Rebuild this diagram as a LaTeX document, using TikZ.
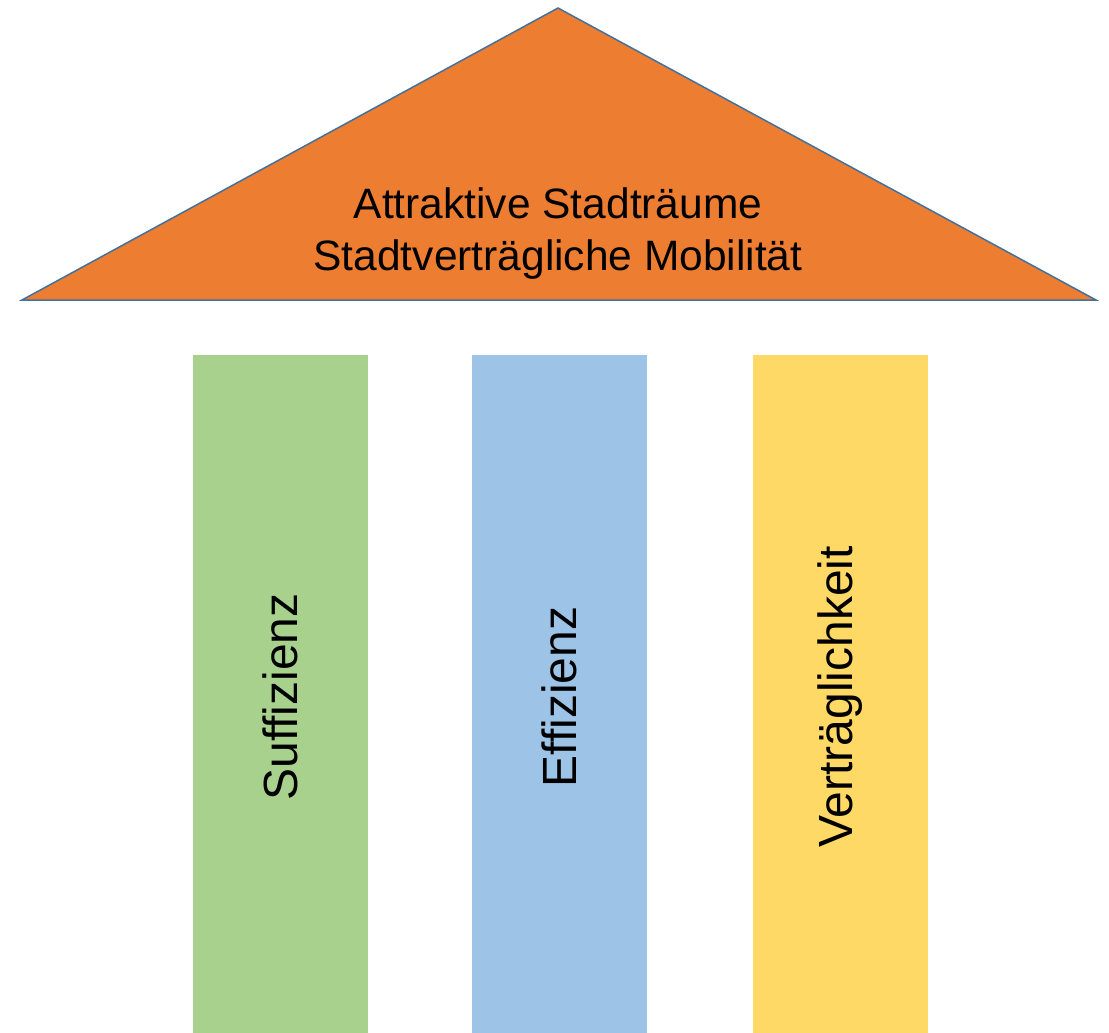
\documentclass[tikz,border=0pt]{standalone}
\usepackage{fontspec}
\setmainfont{Liberation Sans}
\usetikzlibrary{calc}
\definecolor{roofcol}{HTML}{ED7D31}
\definecolor{edgecol}{HTML}{41719C}
\definecolor{suffcol}{HTML}{A9D18E}
\definecolor{effcol}{HTML}{9DC3E6}
\definecolor{vertcol}{HTML}{FFD966}
\tikzset{roof/.style={fill=roofcol, draw=edgecol, line width=1.5pt, line join=miter},
  pillar/.style={rectangle, minimum width=175pt, minimum height=678pt, inner sep=0pt},
  pillartext/.style={rotate=90, font=\fontsize{48}{48}\selectfont},
  rooftext/.style={align=center, font=\fontsize{42.5}{51.5}\selectfont}}
\begin{document}
\begin{tikzpicture}[x=1pt,y=-1pt]
    \useasboundingbox (0,0) rectangle (1109,1033);
    \path[roof] (22,300) coordinate (RL) -- (558,8) coordinate (RT) -- (1096,300) coordinate (RR) -- cycle;
    \node[rooftext] (title) at (558,233.5) {Attraktive Stadträume\\Stadtverträgliche Mobilität};
    \node[pillar,fill=suffcol] (P1) at (280.5,694) {};
    \node[pillartext] (T1) at ($(P1.center)+(0,3)$) {Suffizienz};
    \node[pillar,fill=effcol] (P2) at (559,694) {};
    \node[pillartext] (T2) at ($(P2.center)+(0,3)$) {Effizienz};
    \node[pillar,fill=vertcol] (P3) at (840,694) {};
    \node[pillartext] (T3) at ($(P3.center)+(0,3)$) {Verträglichkeit};
\end{tikzpicture}
\end{document}
